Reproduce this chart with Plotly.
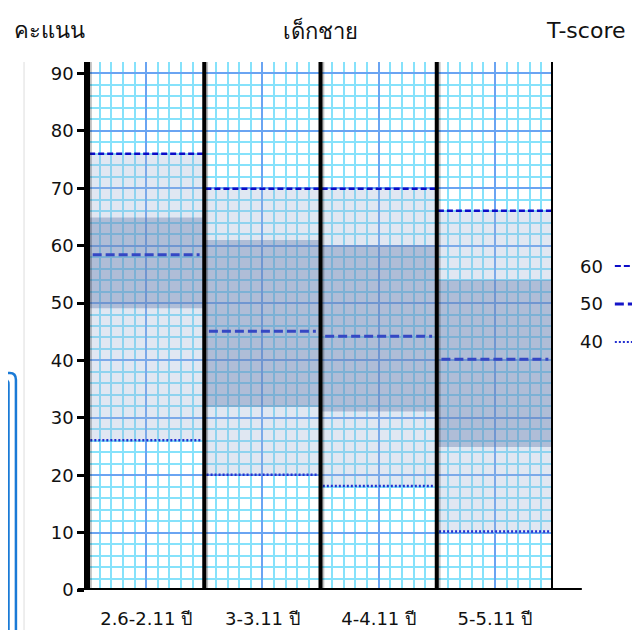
import plotly.graph_objects as go

# ช่วงอายุ (เด็กชาย)
age_groups = ["2.6-2.11 ปี", "3-3.11 ปี", "4-4.11 ปี", "5-5.11 ปี"]

# คะแนนที่ T-score 60 / 50 / 40
t60 = [76.0, 69.9, 69.9, 66.1]
t50 = [58.4, 45.1, 44.2, 40.2]
t40 = [26.1, 20.1, 18.1, 10.2]

# แถบสีเข้ม (ช่วงกลาง)
band_top = [64.9, 61.0, 60.1, 54.0]
band_low = [49.1, 31.9, 31.1, 24.9]

y_ticks = [0, 10, 20, 30, 40, 50, 60, 70, 80, 90]

centers = [i + 0.5 for i in range(len(age_groups))]

fig = go.Figure()

# แถบอ่อน: T40 ถึง T60
fig.add_trace(go.Bar(
    x=centers, base=t40, y=[a - b for a, b in zip(t60, t40)],
    width=1.0, marker=dict(color="rgba(160,180,215,0.32)", line_width=0),
    hoverinfo="skip",
))
# แถบเข้ม
fig.add_trace(go.Bar(
    x=centers, base=band_low, y=[a - b for a, b in zip(band_top, band_low)],
    width=1.0, marker=dict(color="rgba(95,120,170,0.38)", line_width=0),
    hoverinfo="skip",
))


def seg(values, inset):
    xs, ys = [], []
    for i, v in enumerate(values):
        xs += [i + inset, i + 1 - inset, None]
        ys += [v, v, None]
    return xs, ys


x60, y60 = seg(t60, 0.01)
x50, y50 = seg(t50, 0.04)
x40, y40 = seg(t40, 0.02)

fig.add_trace(go.Scatter(x=x60, y=y60, mode="lines",
                         line=dict(color="#0c0cc8", width=2.5, dash="6px,3px")))
fig.add_trace(go.Scatter(x=x50, y=y50, mode="lines",
                         line=dict(color="#3547c4", width=3, dash="9px,4px")))
fig.add_trace(go.Scatter(x=x40, y=y40, mode="lines",
                         line=dict(color="#2430d0", width=2.5, dash="2px,2px")))

shapes = []
# เส้นแบ่งคอลัมน์สีดำ
for i in range(len(age_groups) + 1):
    shapes.append(dict(type="line", xref="x", yref="y", x0=i + 0.02, x1=i + 0.02,
                       y0=0, y1=92, line=dict(color="rgba(0,0,0,0.25)", width=3)))
    shapes.append(dict(type="line", xref="x", yref="y", x0=i, x1=i, y0=0, y1=92,
                       line=dict(color="black", width=4)))
# แกน x หนา
shapes.append(dict(type="line", xref="paper", yref="y", x0=-0.018, x1=1.064,
                   y0=-0.55, y1=-0.55, line=dict(color="rgba(0,0,0,0.2)", width=4)))
shapes.append(dict(type="line", xref="paper", yref="y", x0=-0.022, x1=1.062,
                   y0=0, y1=0, line=dict(color="black", width=4)))

# คำอธิบายเส้นทางขวา
leg_y = [0.6136, 0.5417, 0.4697]
leg_style = [dict(color="#0c0cc8", width=2, dash="6px,3px"),
             dict(color="#1515c8", width=3, dash="9px,4px"),
             dict(color="#2430d0", width=2, dash="2px,2px")]
for yy, st in zip(leg_y, leg_style):
    shapes.append(dict(type="line", xref="paper", yref="paper", x0=1.133, x1=1.25,
                       y0=yy, y1=yy, line=st))

# กรอบสีฟ้าทางซ้าย และเส้นเทา
shapes.append(dict(type="line", xref="paper", yref="paper", x0=-0.1376, x1=-0.1376,
                   y0=1.0, y1=-0.2, line=dict(color="#dddddd", width=1)))
shapes.append(dict(type="path", xref="paper", yref="paper",
                   path="M -0.25,0.411 L -0.168,0.411 Q -0.155,0.411 -0.155,0.398 L -0.155,-0.2",
                   line=dict(color="#1a7ad6", width=2.5)))
shapes.append(dict(type="path", xref="paper", yref="paper",
                   path="M -0.25,0.3985 L -0.180,0.3985 Q -0.171,0.3985 -0.171,0.389 L -0.171,-0.2",
                   line=dict(color="#1a7ad6", width=2.5)))

annotations = [
    dict(text="คะแนน", x=-0.082, y=1.06, xref="paper", yref="paper",
         xanchor="center", yanchor="middle",
         showarrow=False, font=dict(size=22, color="#111")),
    dict(text="เด็กชาย", x=0.499, y=1.06, xref="paper", yref="paper",
         xanchor="center", yanchor="middle",
         showarrow=False, font=dict(size=22, color="#111")),
    dict(text="T-score", x=1.069, y=1.06, xref="paper", yref="paper",
         xanchor="center", yanchor="middle",
         showarrow=False, font=dict(size=22, color="#111")),
]
for yy, lab in zip(leg_y, ["60", "50", "40"]):
    annotations.append(dict(text=lab, x=1.082, y=yy, xref="paper", yref="paper",
                            xanchor="center", yanchor="middle",
                            showarrow=False, font=dict(size=18, color="#111")))

fig.update_layout(
    width=640, height=630,
    margin=dict(l=80, r=95, t=54, b=48),
    paper_bgcolor="white", plot_bgcolor="white",
    showlegend=False, barmode="overlay",
    font=dict(family="DejaVu Sans, Noto Sans, sans-serif", size=17, color="#111"),
    shapes=shapes, annotations=annotations,
    xaxis=dict(
        range=[0, 4], tickmode="array", tickvals=centers, ticktext=age_groups,
        showgrid=True, gridcolor="#6aa4f2", gridwidth=1.5, automargin=False,
        showline=False, zeroline=False, ticks="", ticklabelstandoff=16,
        tickfont=dict(size=18),
        minor=dict(tickmode="linear", tick0=0, dtick=0.1, showgrid=True,
                   gridcolor="#86e2fb", gridwidth=1.5),
    ),
    yaxis=dict(
        range=[0, 92], tickmode="array", tickvals=y_ticks, automargin=False,
        showgrid=True, gridcolor="#6aa4f2", gridwidth=1.5,
        showline=True, linecolor="black", linewidth=3.5, zeroline=False,
        ticks="outside", ticklen=7, tickwidth=3, tickcolor="black",
        tickfont=dict(size=18),
        minor=dict(tickmode="linear", tick0=0, dtick=2, showgrid=True,
                   gridcolor="#86e2fb", gridwidth=1.5),
    ),
)

fig.write_html("out.html")
